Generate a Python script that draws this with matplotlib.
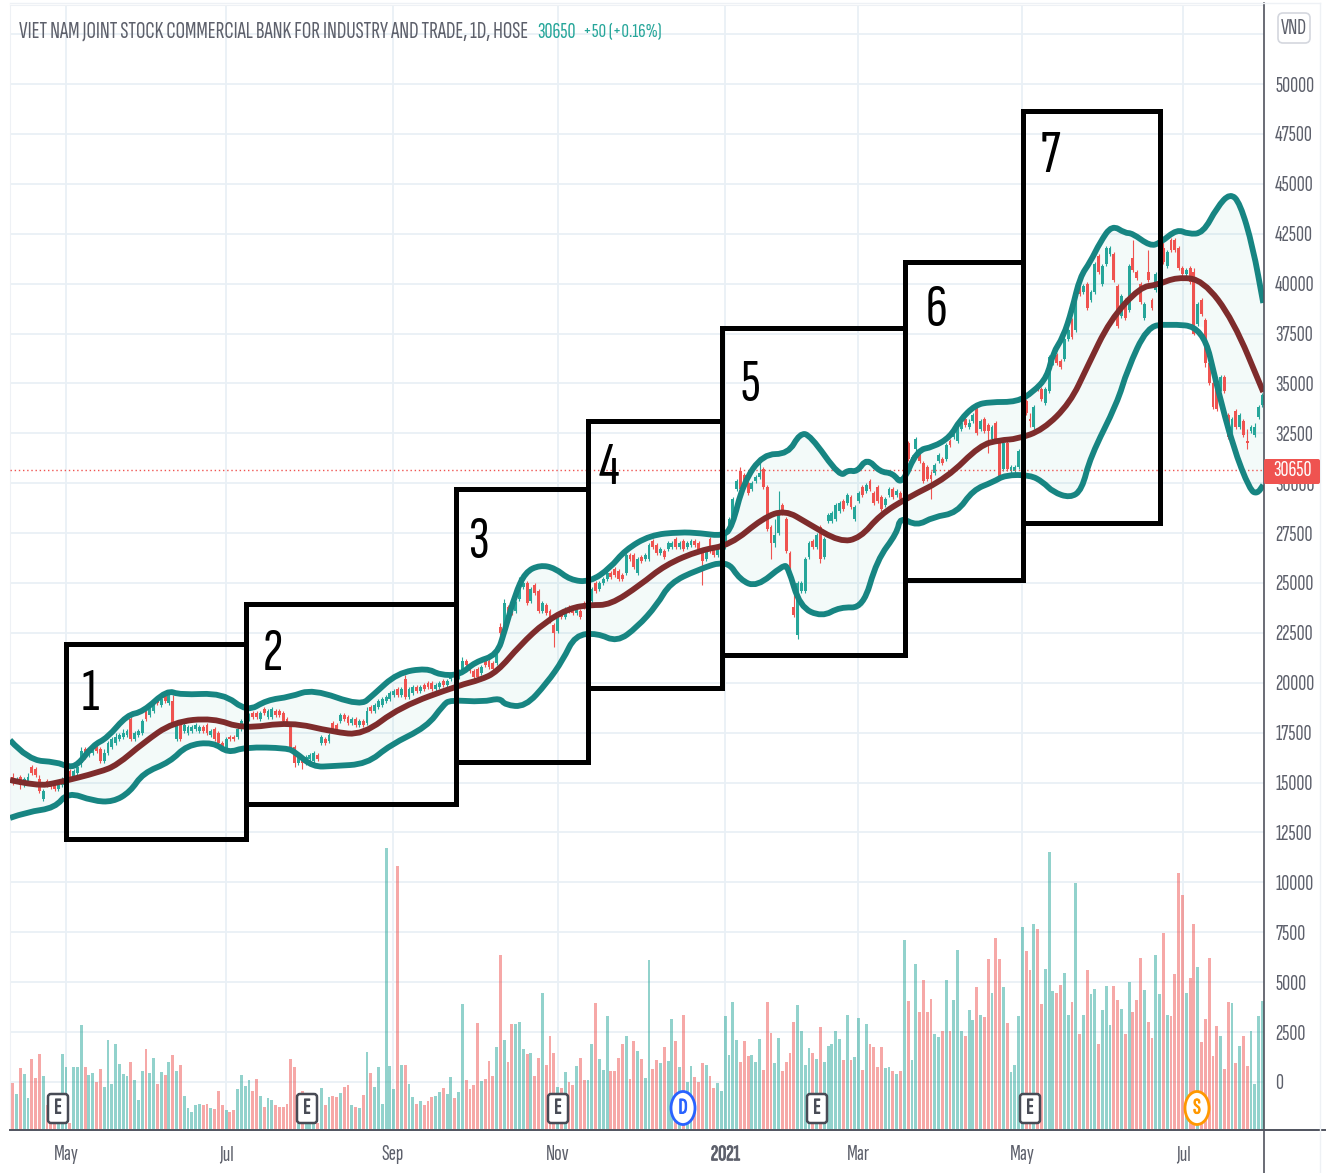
import numpy as np
import matplotlib
matplotlib.use("Agg")  # headless
import matplotlib.pyplot as plt
import matplotlib.patheffects as pe
from matplotlib.patches import Rectangle, FancyBboxPatch, Ellipse, PathPatch
from matplotlib.path import Path
from matplotlib.lines import Line2D
from matplotlib.transforms import Affine2D

W, H = 1331, 1173
NARROW = ["Sofia Sans Extra Condensed", "Liberation Sans", "DejaVu Sans"]

# candles, in hundreds of VND, one value per trading day
opens = [
    153, 151, 153, 149, 151, 158, 157, 152, 142, 151, 150, 149, 147, 149, 152, 156, 153, 155, 160, 167,
    164, 165, 168, 167, 161, 165, 168, 170, 172, 173, 174, 182, 172, 174, 175, 186, 184, 186, 192, 189,
    194, 190, 191, 172, 180, 176, 175, 176, 177, 176, 178, 179, 174, 177, 175, 170, 167, 173, 173, 173,
    177, 180, 182, 185, 185, 182, 187, 183, 183, 186, 186, 185, 182, 178, 168, 160, 163, 160, 162, 161,
    164, 170, 172, 171, 180, 179, 181, 184, 183, 180, 182, 179, 181, 180, 188, 186, 188, 189, 191, 192,
    194, 197, 194, 202, 193, 195, 198, 196, 199, 200, 200, 197, 198, 201, 199, 202, 205, 203, 206, 211,
    208, 206, 207, 205, 212, 211, 210, 210, 228, 228, 238, 237, 236, 242, 248, 250, 241, 249, 246, 236,
    239, 236, 229, 226, 235, 233, 238, 237, 235, 236, 240, 238, 241, 250, 247, 250, 252, 255, 257, 256,
    254, 255, 264, 264, 255, 263, 262, 262, 271, 269, 265, 266, 267, 268, 272, 268, 271, 268, 269, 271,
    270, 265, 262, 272, 267, 264, 265, 268, 276, 283, 297, 306, 304, 300, 297, 301, 303, 307, 298, 278,
    270, 275, 289, 282, 265, 238, 224, 246, 246, 263, 271, 268, 278, 263, 281, 281, 282, 286, 291, 290,
    293, 282, 291, 298, 296, 301, 295, 298, 293, 289, 294, 297, 294, 295, 296, 320, 310, 317, 315, 310,
    308, 304, 305, 311, 312, 312, 321, 323, 321, 327, 332, 328, 331, 337, 327, 332, 329, 322, 330, 320,
    307, 320, 306, 306, 308, 310, 341, 332, 328, 348, 347, 340, 346, 360, 364, 361, 362, 372, 382, 377,
    400, 396, 400, 392, 396, 414, 400, 410, 415, 415, 399, 384, 392, 387, 413, 406, 400, 383, 406, 392,
    397, 403, 418, 409, 422, 422, 418, 408, 405, 408, 406, 380, 392, 382, 360, 350, 352, 347, 353, 334,
    324, 336, 328, 331, 321, 326, 324, 333, 339,
]
closes = [
    151, 152, 149, 152, 153, 155, 154, 146, 146, 149, 148, 147, 149, 152, 155, 153, 156, 158, 166, 163,
    165, 167, 166, 161, 165, 170, 172, 173, 174, 175, 176, 172, 175, 176, 181, 182, 187, 190, 190, 192,
    191, 194, 180, 179, 172, 179, 178, 178, 179, 178, 176, 175, 176, 172, 170, 168, 172, 172, 172, 177,
    181, 183, 184, 183, 183, 185, 185, 186, 187, 184, 184, 181, 180, 168, 160, 163, 160, 163, 164, 165,
    162, 173, 170, 174, 177, 177, 184, 182, 180, 182, 179, 181, 179, 186, 186, 189, 191, 192, 193, 195,
    196, 194, 197, 193, 197, 198, 196, 198, 197, 198, 197, 199, 200, 199, 201, 204, 203, 206, 211, 209,
    206, 203, 203, 208, 209, 208, 207, 215, 225, 240, 232, 235, 240, 251, 250, 240, 247, 245, 236, 240,
    235, 231, 225, 234, 233, 237, 236, 235, 238, 233, 238, 241, 247, 246, 250, 252, 255, 253, 254, 252,
    252, 264, 262, 258, 262, 261, 264, 269, 268, 265, 267, 263, 270, 270, 268, 270, 267, 270, 271, 269,
    267, 261, 266, 266, 264, 267, 268, 275, 282, 292, 301, 297, 298, 295, 300, 303, 305, 298, 277, 270,
    274, 286, 285, 266, 253, 234, 250, 250, 262, 270, 268, 274, 262, 272, 284, 285, 289, 290, 287, 294,
    288, 288, 295, 294, 299, 297, 290, 291, 287, 292, 297, 293, 296, 292, 312, 312, 313, 322, 311, 301,
    302, 302, 309, 314, 310, 319, 319, 326, 328, 330, 329, 330, 334, 325, 331, 326, 326, 328, 322, 303,
    320, 307, 308, 308, 316, 332, 335, 331, 338, 347, 342, 347, 363, 364, 360, 358, 372, 377, 373, 393,
    395, 399, 388, 396, 410, 406, 409, 418, 418, 402, 379, 394, 383, 409, 407, 403, 391, 390, 402, 388,
    405, 413, 411, 416, 417, 417, 408, 405, 407, 401, 375, 390, 385, 360, 350, 338, 337, 353, 346, 323,
    332, 328, 334, 324, 320, 328, 328, 338, 344,
]
highs = [
    155, 153, 154, 153, 155, 159, 158, 154, 147, 152, 151, 150, 150, 153, 156, 157, 157, 159, 168, 168,
    166, 168, 169, 168, 167, 171, 173, 175, 175, 177, 177, 183, 176, 177, 182, 187, 188, 191, 193, 193,
    195, 195, 194, 180, 181, 180, 179, 179, 180, 179, 179, 180, 177, 178, 176, 171, 173, 174, 174, 178,
    182, 184, 185, 186, 186, 186, 188, 187, 188, 187, 187, 186, 183, 180, 169, 164, 164, 164, 165, 166,
    165, 174, 173, 175, 181, 180, 185, 185, 184, 183, 183, 182, 182, 188, 189, 190, 192, 193, 194, 196,
    197, 198, 198, 204, 198, 199, 199, 199, 200, 201, 201, 200, 201, 202, 202, 205, 206, 207, 213, 212,
    209, 207, 208, 209, 213, 212, 211, 216, 230, 242, 239, 238, 241, 253, 251, 251, 248, 250, 247, 241,
    240, 237, 230, 235, 236, 238, 239, 238, 239, 237, 241, 242, 248, 251, 251, 253, 256, 256, 258, 257,
    255, 265, 265, 265, 263, 264, 265, 270, 272, 270, 268, 267, 271, 271, 273, 271, 272, 271, 272, 272,
    271, 266, 267, 273, 268, 268, 269, 276, 283, 293, 302, 308, 305, 301, 301, 304, 310, 308, 299, 279,
    282, 296, 290, 283, 266, 247, 251, 251, 263, 271, 272, 275, 279, 273, 285, 286, 290, 291, 292, 295,
    294, 289, 296, 299, 300, 302, 296, 299, 294, 293, 298, 298, 297, 296, 313, 321, 314, 323, 316, 311,
    309, 306, 310, 315, 313, 320, 322, 327, 329, 331, 333, 332, 335, 338, 332, 333, 330, 329, 331, 321,
    321, 321, 309, 309, 317, 333, 342, 335, 339, 349, 348, 348, 364, 365, 365, 362, 373, 378, 383, 394,
    401, 400, 401, 397, 411, 415, 410, 419, 419, 416, 400, 395, 393, 410, 422, 407, 401, 391, 417, 393,
    406, 414, 422, 417, 423, 423, 419, 409, 408, 409, 408, 391, 393, 383, 361, 353, 353, 354, 354, 335,
    333, 337, 335, 332, 327, 329, 330, 339, 345,
]
lows = [
    149, 150, 147, 148, 150, 154, 153, 145, 141, 148, 147, 146, 146, 148, 151, 152, 152, 154, 158, 162,
    163, 164, 165, 160, 160, 164, 167, 169, 171, 172, 173, 171, 171, 173, 174, 181, 183, 185, 189, 188,
    190, 189, 179, 171, 171, 175, 174, 175, 176, 175, 175, 174, 173, 171, 169, 167, 166, 171, 171, 172,
    176, 179, 181, 182, 182, 181, 184, 182, 182, 183, 183, 180, 179, 167, 158, 159, 157, 159, 161, 160,
    161, 169, 169, 170, 176, 176, 180, 181, 179, 179, 178, 178, 178, 179, 185, 185, 187, 188, 190, 191,
    193, 193, 193, 192, 192, 194, 195, 195, 196, 197, 196, 196, 197, 198, 198, 201, 202, 202, 205, 208,
    205, 202, 201, 204, 208, 207, 206, 209, 224, 227, 231, 234, 235, 241, 247, 239, 240, 244, 235, 235,
    234, 230, 218, 225, 232, 232, 235, 234, 234, 232, 237, 237, 240, 245, 246, 249, 251, 252, 253, 251,
    251, 254, 261, 257, 254, 260, 261, 261, 267, 264, 264, 262, 266, 267, 267, 267, 266, 267, 268, 268,
    266, 249, 261, 265, 263, 263, 264, 267, 275, 282, 296, 296, 297, 294, 296, 300, 302, 297, 276, 262,
    268, 274, 284, 265, 252, 233, 222, 245, 245, 262, 267, 267, 260, 262, 280, 280, 281, 285, 286, 289,
    287, 281, 290, 293, 295, 296, 289, 290, 286, 288, 293, 292, 293, 291, 295, 311, 309, 316, 310, 300,
    301, 292, 304, 310, 309, 311, 318, 322, 320, 326, 328, 327, 330, 324, 326, 325, 315, 321, 321, 302,
    306, 306, 305, 305, 307, 309, 334, 328, 327, 346, 341, 339, 345, 359, 359, 357, 361, 371, 372, 376,
    394, 395, 387, 391, 395, 405, 399, 409, 414, 401, 378, 383, 382, 386, 406, 402, 390, 382, 401, 387,
    396, 402, 410, 408, 416, 416, 407, 404, 404, 400, 374, 379, 384, 358, 349, 337, 336, 346, 345, 322,
    323, 327, 327, 323, 317, 325, 323, 332, 338,
]

# volume overlay: top of each bar as read on the right-hand scale
volume_top = [
    -30, -620, 680, 400, -820, 1140, 180, 1390, 300, -1150, -1240, -1240, -1500, 1390, 770, -2070, 730, 770, 2840, 730,
    350, 430, 20, 650, -230, 2100, -100, 1890, 890, 400, 300, 1000, 100, -900, 530, 1650, 430, 1220, -100, 480,
    350, 985, 1340, 530, 870, -680, -1290, -1490, -1150, -1100, -1150, -1100, -1290, -1350, -450, -1170, -1400, -1490, -1420, -350,
    350, -180, 100, -430, 150, -680, -1250, -820, -900, -1150, -1240, -1240, -1100, 1140, 730, -1500, -430, -1500, -1500, -1500,
    -2070, -300, -1150, -750, -680, -750, -570, -250, -130, -1150, -1240, -1290, -630, 1520, 430, -230, 730, -1100, 11740, 800,
    -350, 10820, 870, 870, -120, -750, -1100, -940, -1150, -940, -730, -700, -480, -320, -600, 230, -820, -480, 3900, 100,
    -370, -150, 2970, 70, 150, 1070, 300, 1740, 6360, 2100, 1020, 2890, 2900, 3000, 1650, 1400, 1440, 300, 1220, 4440,
    850, 2320, 1440, -230, -320, 520, 20, -150, 800, 1190, 100, 100, 1920, 3940, 1140, 600, 3290, 550, 550, 1220,
    1920, 2300, 150, 2050, 1540, 1140, 200, 6100, 630, 1100, 940, 1740, 1070, 3160, 2050, 750, 3360, 20, 800, 230,
    0, 970, 870, 320, -300, -30, -430, 3290, 1340, 4000, 2100, 1000, 2050, 1300, 1340, 985, 2170, 620, 3990, 2440,
    940, 2200, 530, 1000, 1450, 2990, 3870, 2570, 850, 1720, 1440, 1140, 2770, 985, 1790, 1920, 2570, 2170, 1100, 3360,
    1100, 1250, 3220, 620, 2900, 1890, 1740, 730, 1740, 680, 750, 550, 400, 550, 7110, 4070, 1100, 5900, 3490, 5110,
    3490, 4140, 2400, 2250, 2570, 5110, 2570, 4110, 6630, 2570, 2300, 3620, 3090, 4740, 3360, 3240, 6180, 4480, 7210, 6180,
    4740, 2970, 520, 850, 3320, 7750, 6560, 5590, 7900, 7670, 3910, 5660, 11540, 4540, 4440, 4880, 5440, 3360, 4020, 9990,
    2390, 3360, 5590, 4410, 4680, 1920, 3620, 4810, 2870, 4810, 4110, 3660, 2420, 4990, 3490, 4110, 6210, 4610, 3010, 2200,
    6360, 4410, 7450, 3360, 3320, 5390, 10490, 9350, 4480, 5230, 7900, 5780, 1990, 3160, 6210, 1300, 2820, 2320, 670, 3990,
    3940, 970, 1790, 2320, 800, 2570, -120, 3290, 4070,
]

# Bollinger bands, read at the bends of each line (bar number, VND)
upper_x = [-0.7, 4, 11.6, 14.5, 17.1, 21.1, 24.8, 30, 34.2, 40.5, 43.9, 55.2, 61.5, 66.7, 72.8, 78.8, 91.2, 94.6,
           100.9, 108.7, 112.1, 117.4, 121.3, 127.1, 129.2, 131.8, 134.5, 138.4, 142.3, 146.3, 151.5, 156.8, 160.7,
           167.3, 175.1, 180.4, 186.4, 188.8, 191.7, 196.9, 203.5, 206.6, 209.3, 217.1, 219.2, 221.6, 224.2, 227.6,
           231, 233.4, 237.3, 241.6, 246, 248.6, 252.6, 256.5, 263.6, 267.8, 271.5, 273, 275.7, 278, 280.1, 282.8,
           285.4, 288.5, 291.9, 293.8, 298.5, 301.1, 305.6, 308.5, 312.4, 316.1, 319.5, 322.1, 325.5, 328.2]
upper_y = [17130, 16130, 16030, 15780, 15880, 16880, 17230, 18390, 18540, 19640, 19390, 19490, 18540, 19140, 19290,
           19690, 18840, 19390, 20490, 20740, 20390, 20390, 21040, 21390, 22650, 24400, 25550, 25900, 25750, 25150,
           25050, 25750, 26650, 27400, 27550, 27500, 27350, 27800, 30000, 31460, 31460, 32510, 32410, 30310, 30660,
           30560, 31260, 30560, 30510, 29900, 31660, 31810, 32310, 33160, 33920, 34070, 34070, 34570, 35320, 36520,
           37320, 38680, 40330, 41080, 42080, 42940, 42530, 42530, 41880, 42030, 42730, 42480, 42530, 43830, 44540,
           44040, 41830, 39030]
middle_x = [-0.7, 6.4, 11.6, 22.9, 27.4, 34.2, 42.1, 52.6, 60.4, 72.8, 84.1, 91.9, 101.6, 117.4, 122.6, 127.1, 133.2,
            139.7, 146.3, 151.5, 156.8, 164.7, 171.2, 180.4, 188.3, 196.9, 202.7, 208.5, 217.1, 222.4, 227.6, 234.7,
            245.2, 253.9, 259.1, 263.6, 270.4, 277.5, 282, 288, 295.9, 300.3, 305.6, 312.4, 320.3, 328.2]
middle_y = [15130, 14830, 14980, 15530, 15880, 16980, 18040, 18240, 17690, 18040, 17540, 17380, 18790, 19890, 20140,
            20540, 21890, 23050, 23750, 23900, 23900, 24900, 25900, 26650, 26900, 28260, 28660, 28010, 27050, 27250,
            28410, 29260, 30260, 31910, 32160, 32210, 32670, 34020, 35820, 38180, 39830, 39930, 40330, 40180, 38180,
            34570]
lower_x = [-0.7, 3.8, 11.1, 14.5, 21.1, 26.3, 30.8, 34.2, 41.3, 45.7, 52.6, 56.5, 61, 72, 74.1, 78.8, 84.1, 93, 99,
           108.7, 113, 114.8, 123.4, 127.9, 129.2, 134.5, 140.2, 144.4, 147.6, 153.4, 158.6, 163.9, 169.1, 172.5,
           179.6, 187.5, 190.9, 195.3, 202.2, 203.5, 206.6, 212.4, 217.1, 223.2, 226.8, 232.1, 232.9, 237.3, 241.6,
           247.8, 252, 257.3, 260.5, 267, 270.4, 273, 277.5, 280.6, 282.8, 289.9, 292.5, 297.7, 303, 312.4, 316.1,
           320.3, 324.7, 326.6, 328.2]
lower_y = [13230, 13530, 13730, 14530, 14080, 14030, 14530, 15480, 16030, 16880, 17030, 16480, 16780, 16730, 16530,
           15780, 15830, 15930, 16880, 17790, 18890, 19140, 19040, 19240, 18890, 18790, 19990, 21140, 22390, 22490,
           22040, 22790, 23900, 25000, 25650, 26150, 25150, 24800, 25900, 25800, 23800, 23300, 23800, 23750, 26150,
           27500, 28310, 27860, 28310, 28510, 29660, 30060, 30410, 30410, 30060, 29560, 29260, 29660, 31310, 34020,
           35670, 37830, 37980, 37830, 34820, 31810, 29660, 29460, 29910]

# the seven hand-drawn boxes
box_labels = ["1", "2", "3", "4", "5", "6", "7"]
box_left = [14, 61.2, 116.3, 151, 186.2, 234.2, 265.2]
box_right = [61.2, 116.3, 151, 186.2, 234.2, 265.2, 301.1]
box_low = [12170, 13930, 16030, 19740, 21390, 25150, 28010]
box_high = [21940, 23950, 29710, 33120, 37780, 41080, 48650]

month_pos = [14, 56, 99.8, 143.1, 187, 221.9, 264.9, 307.2]
month_labels = ["May", "Jul", "Sep", "Nov", "2021", "Mar", "May", "Jul"]
price_ticks = list(range(0, 52501, 2500))
last_price = 30650

TEAL, RED = "#26a69a", "#ef5350"
BAND, MIDDLE = "#178582", "#7e2c2c"
GRID = "#e9f0f6"
TEXT = "#5d606b"
AXIS = "#50535e"
FS = 16


def rounded_line(xs, ys):
    # quadratic curves with the read points as control points, so the bends come out soft
    pts = np.column_stack([xs, ys])
    mids = (pts[:-1] + pts[1:]) / 2
    verts = [pts[0]]
    codes = [Path.MOVETO]
    for i in range(1, len(pts) - 1):
        verts += [pts[i], mids[i]]
        codes += [Path.CURVE3, Path.CURVE3]
    verts.append(pts[-1])
    codes.append(Path.LINETO)
    return Path(verts, codes)


def heavier(color):
    # the condensed face has no bold, so thicken it with a thin stroke
    return [pe.withStroke(linewidth=0.7, foreground=color)]


fig = plt.figure(figsize=(W / 100, H / 100), dpi=100)
ax = fig.add_axes([10 / W, 43 / H, 1254 / W, 1125 / H])
# image pixels -> figure, for the chrome around the chart
px = Affine2D().scale(1 / W, -1 / H).translate(0, 1) + fig.transFigure

y_min, y_max = -2405, 53958
ax.set_xlim(-0.71, 328.4)
ax.set_ylim(y_min, y_max)

bar_x = np.arange(len(volume_top))
o = np.array(opens) * 100
c = np.array(closes) * 100
colors = np.where(c >= o, TEAL, RED)

ax.bar(bar_x, np.array(volume_top) - y_min, bottom=y_min, width=0.75,
       color=colors, alpha=0.5, linewidth=0, zorder=2)

# band fill, then candles, then the lines
ax.fill(np.r_[upper_x, lower_x[::-1]], np.r_[upper_y, lower_y[::-1]],
        color=TEAL, alpha=0.05, linewidth=0, zorder=2.5)
ax.vlines(bar_x, np.array(lows) * 100, np.array(highs) * 100, colors=colors, linewidth=0.8, zorder=3)
ax.bar(bar_x, np.abs(c - o), bottom=np.minimum(o, c), width=0.75, color=colors, linewidth=0, zorder=3)

ax.axhline(last_price, color=RED, linestyle=(0, (1, 2)), linewidth=1, zorder=3)
for xs, ys, col in [(upper_x, upper_y, BAND), (lower_x, lower_y, BAND), (middle_x, middle_y, MIDDLE)]:
    ax.add_patch(PathPatch(rounded_line(xs, ys), fill=False, edgecolor=col, linewidth=4.2,
                           joinstyle="round", capstyle="butt", zorder=4))

for x0, x1, y0, y1 in zip(box_left, box_right, box_low, box_high):
    ax.add_patch(Rectangle((x0, y0), x1 - x0, y1 - y0, fill=False, edgecolor="black",
                           linewidth=3.6, zorder=5))

# number in each box
label_px = [(90, 694), (273, 654), (479, 542), (609, 468), (750, 385), (936, 311), (1050, 157)]
for s, (lx, ly) in zip(box_labels, label_px):
    fig.text(lx / W, 1 - ly / H, s, fontsize=44, family=NARROW, color="black", ha="center", va="center", zorder=6)

# axes, grid, ticks
ax.set_xticks(month_pos)
ax.set_xticklabels(month_labels, family=NARROW, fontsize=FS, color=TEXT)
ax.get_xticklabels()[4].set_path_effects(heavier(TEXT))
ax.yaxis.tick_right()
ax.set_yticks(price_ticks)
ax.set_yticklabels([str(v) if v <= 50000 else "" for v in price_ticks], family=NARROW, fontsize=FS, color=TEXT)
ax.tick_params(axis="both", length=0)
ax.tick_params(axis="x", pad=11)
ax.tick_params(axis="y", pad=8)
ax.grid(True, color=GRID, linewidth=1.3, zorder=1)
ax.set_axisbelow(True)
for name in ["top", "left"]:
    ax.spines[name].set_color("#eef1f5")
ax.spines["right"].set_visible(False)
ax.spines["bottom"].set_visible(False)

for xs, ys, col, lw in [
    ((10, 1325), (1130, 1130), AXIS, 1.4),
    ((1264, 1264), (3, 1173), AXIS, 1.2),
    ((1320, 1320), (3, 1173), "#eef1f5", 1.0),
    ((10, 1320), (3, 3), "#eef1f5", 1.0),
]:
    fig.add_artist(Line2D(xs, ys, color=col, linewidth=lw, transform=px, zorder=7))

# title row
fig.text(19 / W, 1 - 32 / H, "VIET NAM JOINT STOCK COMMERCIAL BANK FOR INDUSTRY AND TRADE, 1D, HOSE",
         family=NARROW, fontsize=17, color=TEXT, va="center")
fig.text(537 / W, 1 - 32 / H, "30650", family=NARROW, fontsize=FS, color=TEAL, va="center")
fig.text(583 / W, 1 - 32 / H, "+50 (+0.16%)", family=NARROW, fontsize=15, color=TEAL, va="center")

# currency button and last price tag
fig.add_artist(FancyBboxPatch((1278, 13), 32, 30, boxstyle="round,pad=0,rounding_size=5", facecolor="white",
                              edgecolor="#d4d7de", linewidth=1.2, transform=px, zorder=7))
fig.text(1294 / W, 1 - 28 / H, "VND", family=NARROW, fontsize=FS, color=TEXT, ha="center", va="center", zorder=8)
fig.add_artist(FancyBboxPatch((1264, 459), 56, 25, boxstyle="round,pad=0,rounding_size=2", facecolor=RED,
                              edgecolor="none", transform=px, zorder=7))
fig.text(1292 / W, 1 - 471 / H, str(last_price), family=NARROW, fontsize=FS, color="white",
         ha="center", va="center", zorder=8)

# event markers on the time line
for mx in [58, 307, 558, 817, 1030]:
    fig.add_artist(FancyBboxPatch((mx - 10, 1094), 20, 29, boxstyle="round,pad=0,rounding_size=3", facecolor="white",
                                  edgecolor="#484b55", linewidth=1.8, transform=px, zorder=7))
    fig.text(mx / W, 1 - 1108 / H, "E", family=NARROW, fontsize=FS, color="#484b55",
             ha="center", va="center", zorder=8, path_effects=heavier("#484b55"))
for mx, letter, col in [(683, "D", "#2962ff"), (1197, "S", "#ff9800")]:
    fig.add_artist(Ellipse((mx, 1108), 24, 33, facecolor="white", edgecolor=col, linewidth=2, transform=px, zorder=7))
    fig.text(mx / W, 1 - 1108 / H, letter, family=NARROW, fontsize=FS, color=col,
             ha="center", va="center", zorder=8, path_effects=heavier(col))

fig.savefig("out.png", dpi=100)
plt.close(fig)
